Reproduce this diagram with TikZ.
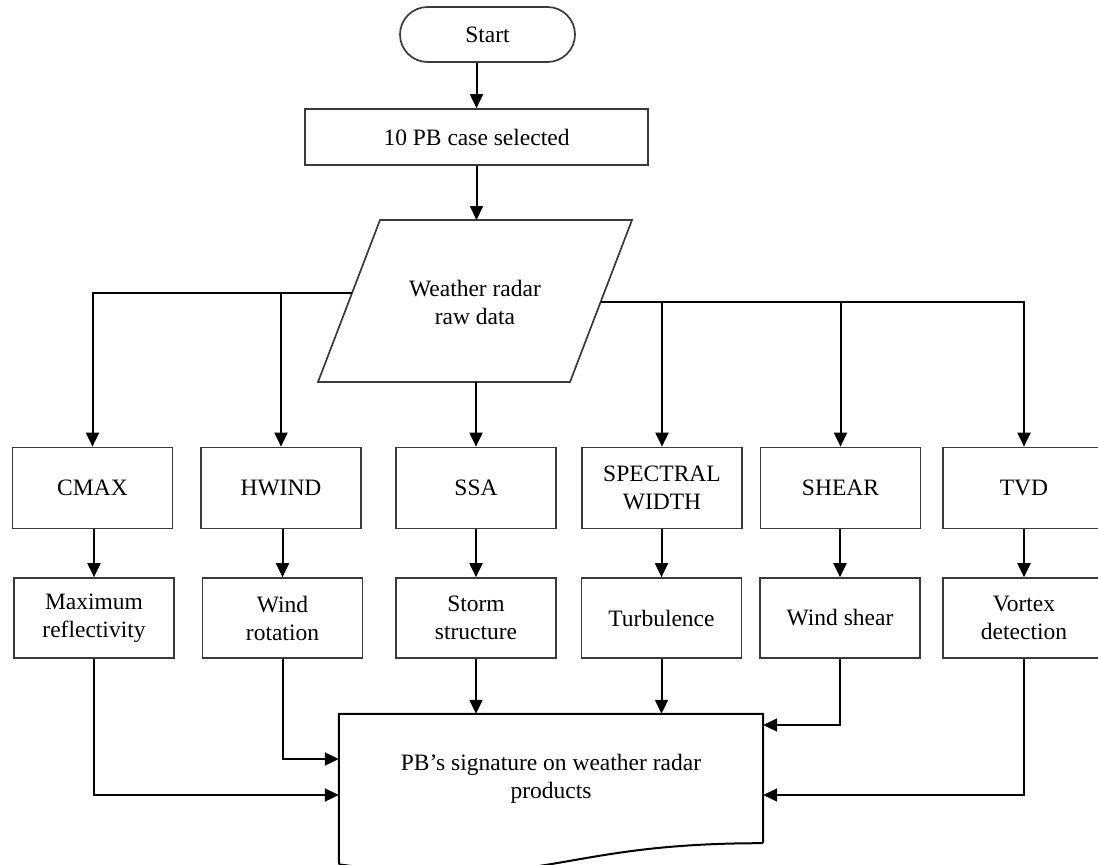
\documentclass[tikz,border=0pt]{standalone}
\usepackage{fontspec}
\setmainfont{Liberation Serif}
\usetikzlibrary{arrows.meta}
\definecolor{boxgray}{HTML}{3A3A3A}
\begin{document}
\begin{tikzpicture}[x=1pt,y=-1pt,
  every node/.style={font=\fontsize{23.5}{28}\selectfont, align=center, inner sep=0pt},
  box/.style={draw=boxgray, line width=1.7pt, rectangle, minimum width=160pt, minimum height=81pt},
  box2/.style={draw=boxgray, line width=1.7pt, rectangle, minimum width=160pt, minimum height=80pt},
  arr/.style={draw=black, line width=2pt, -{Triangle[length=14pt,width=13pt]}},
  ln/.style={draw=black, line width=2pt}]
\useasboundingbox (0,0) rectangle (1098,865);
\clip (0,0) rectangle (1098,865);
\fill[white] (0,0) rectangle (1098,865);

% start
\node[draw=boxgray, line width=1.7pt, rounded corners=27.5pt, minimum width=175pt, minimum height=55pt] (start) at (487.5,34.5) {Start};
% case
\node[draw=boxgray, line width=1.7pt, minimum width=343pt, minimum height=56pt] (case) at (476.5,137) {10 PB case selected};
% parallelogram
\draw[boxgray, line width=1.7pt] (380,220) -- (632,220) -- (570,382) -- (318,382) -- cycle;
\node (raw) at (475,302) {Weather radar\\raw data};
\coordinate (rawT) at (476.5,220);
\coordinate (rawB) at (476,382);
\coordinate (rawL) at (352,293);
\coordinate (rawR) at (601,302);

% row 1
\node[box] (cmax) at (92.5,488) {CMAX};
\node[box] (hwind) at (281,488) {HWIND};
\node[box] (ssa) at (476,488) {SSA};
\node[box] (spec) at (662,488) {SPECTRAL\\WIDTH};
\node[box] (shear) at (840.5,488) {SHEAR};
\node[box, minimum width=162pt] (tvd) at (1024,488) {TVD};

% row 2
\node[box2] (maxr) at (94,618) {Maximum\\reflectivity};
\node[box2] (wrot) at (282.5,618) {Wind\\rotation};
\node[box2] (storm) at (476,618) {Storm\\structure};
\node[box2] (turb) at (661.5,618) {Turbulence};
\node[box2] (wshear) at (840,618) {Wind shear};
\node[box2, minimum width=162pt] (vortex) at (1024,618) {Vortex\\detection};

% document
\node[minimum width=424pt, minimum height=129pt] (doc) at (551,778.5) {PB’s signature on weather radar\\products};
\draw[black, line width=2pt] (doc.south east) -- (doc.north east) -- (doc.north west) -- (339,864.4)
  (doc.south east) .. controls (551,843) and (551,892) .. (339,864.4);

% top connectors
\draw[arr] (case.north |- start.south) -- (case.north);
\draw[arr] (case.south) -- (rawT);
\draw[arr] (rawL) -| (cmax.north);
\draw[arr] (hwind.north |- rawL) -- (hwind.north);
\draw[arr] (rawB) -- (ssa.north);
\draw[arr] (rawR) -| (tvd.north);
\draw[arr] (spec.north |- rawR) -- (spec.north);
\draw[arr] (shear.north |- rawR) -- (shear.north);

% row 1 -> row 2
\draw[arr] (maxr.north |- cmax.south) -- (maxr.north);
\draw[arr] (wrot.north |- hwind.south) -- (wrot.north);
\draw[arr] (storm.north |- ssa.south) -- (storm.north);
\draw[arr] (turb.north |- spec.south) -- (turb.north);
\draw[arr] (wshear.north |- shear.south) -- (wshear.north);
\draw[arr] (vortex.north |- tvd.south) -- (vortex.north);

% row 2 -> document
\draw[arr] (maxr.south) |- (doc.west |- 0,795);
\draw[arr] (wrot.south) |- (doc.west |- 0,759);
\draw[arr] (storm.south) -- (storm.south |- doc.north);
\draw[arr] (turb.south) -- (turb.south |- doc.north);
\draw[arr] (wshear.south) |- (doc.east |- 0,725);
\draw[arr] (vortex.south) |- (doc.east |- 0,795);
\end{tikzpicture}
\end{document}
